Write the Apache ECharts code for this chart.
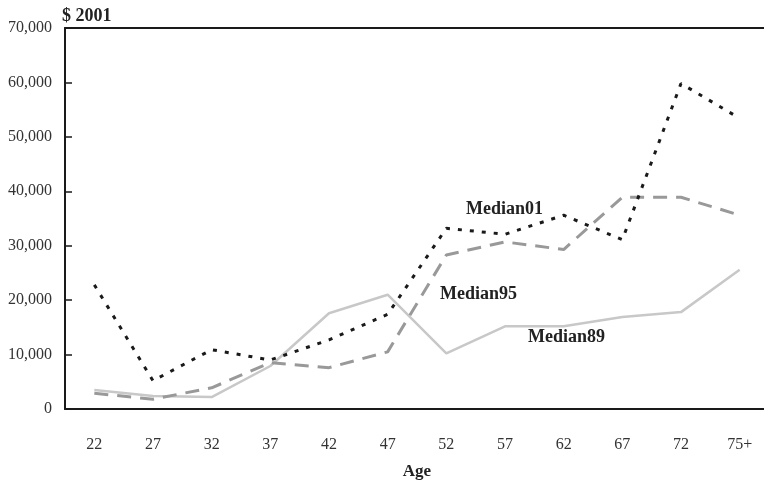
<!DOCTYPE html>
<html>
<head>
<meta charset="utf-8">
<script src="https://cdn.jsdelivr.net/npm/echarts@6/dist/echarts.min.js"></script>
<style>html,body{margin:0;padding:0;background:#fff}#c{width:764px;height:484px}</style>
</head>
<body>
<div id="c"></div>
<script>
const ages = ['22','27','32','37','42','47','52','57','62','67','72','75+'];
const yTicks = [0,10000,20000,30000,40000,50000,60000,70000];
const median01 = [22800, 5200, 10900, 9000, 12700, 17400, 33200, 32100, 35600, 31100, 59800, 53400];
const median95 = [2900, 1800, 3900, 8500, 7600, 10500, 28300, 30700, 29300, 38900, 38900, 35600];
const median89 = [3500, 2400, 2200, 7900, 17600, 21000, 10200, 15200, 15200, 16900, 17800, 25600];

const F = 'Liberation Serif, Times New Roman, serif';
const chart = echarts.init(document.getElementById('c'));
chart.setOption({
  animation: false,
  grid: {left: 65, top: 28, width: 704, bottom: 75, containLabel: false, outerBoundsMode: 'none'},
  xAxis: [{
    type: 'category', data: ages, boundaryGap: true,
    name: 'Age', nameLocation: 'middle', nameGap: 54,
    nameTextStyle: {fontFamily: F, fontWeight: 'bold', fontSize: 17, color: '#222'},
    axisLine: {lineStyle: {color: '#1a1a1a', width: 2}},
    axisTick: {inside: true, length: 6, lineStyle: {color: '#1a1a1a', width: 1.5}},
    axisLabel: {fontFamily: F, fontSize: 16, color: '#333', margin: 28}
  }, {
    type: 'category', data: ages, position: 'top',
    axisLine: {show: true, lineStyle: {color: '#1a1a1a', width: 2}},
    axisTick: {show: false}, axisLabel: {show: false}, splitLine: {show: false}
  }],
  yAxis: {
    type: 'value', min: 0, max: 70000, interval: 10000,
    name: '$ 2001', nameLocation: 'end', nameGap: 3,
    nameTextStyle: {fontFamily: F, fontWeight: 'bold', fontSize: 18, color: '#222', align: 'left', padding: [0,0,0,-3]},
    axisLine: {show: true, lineStyle: {color: '#1a1a1a', width: 2}},
    axisTick: {show: true, inside: true, length: 7, lineStyle: {color: '#1a1a1a', width: 1.5}},
    splitLine: {show: false},
    axisLabel: {fontFamily: F, fontSize: 16, color: '#333', margin: 13, padding: [9,0,0,0],
      formatter: v => yTicks.includes(v) ? v.toLocaleString('en-US') : ''}
  },
  series: [
    {name: 'Median89', type: 'line', data: median89, symbol: 'none', z: 1,
      lineStyle: {color: '#c8c8c8', width: 2.5}},
    {name: 'Median95', type: 'line', data: median95, symbol: 'none', z: 2,
      lineStyle: {color: '#999999', width: 3, type: [14, 9]}},
    {name: 'Median01', type: 'line', data: median01, symbol: 'none', z: 3,
      lineStyle: {color: '#1a1a1a', width: 3, type: [4, 8]}}
  ],
  graphic: [
    {type: 'text', left: 466, top: 200, style: {text: 'Median01', font: 'bold 18px ' + F, fill: '#222'}},
    {type: 'text', left: 440, top: 285, style: {text: 'Median95', font: 'bold 18px ' + F, fill: '#222'}},
    {type: 'text', left: 528, top: 328, style: {text: 'Median89', font: 'bold 18px ' + F, fill: '#222'}}
  ]
});
</script>
</body>
</html>
